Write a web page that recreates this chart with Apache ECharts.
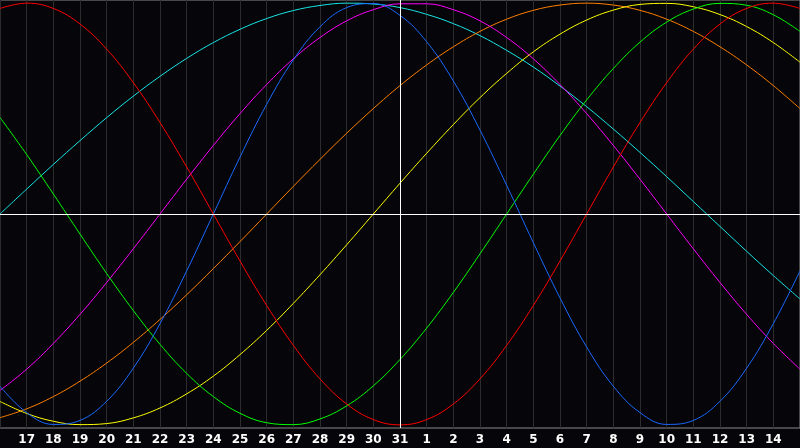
<!DOCTYPE html>
<html>
<head>
<meta charset="utf-8">
<script src="https://cdn.jsdelivr.net/npm/echarts@6/dist/echarts.min.js"></script>
<style>
  html, body { margin: 0; padding: 0; background: #060509; }
  #chart { width: 800px; height: 448px; }
</style>
</head>
<body>
<div id="chart"></div>
<script>
// day labels along the bottom (index 0 = 16th, 15 = 31st = today)
const dayLabels = ['16', '17', '18', '19', '20', '21', '22', '23', '24', '25', '26', '27', '28', '29', '30', '31',
    '1', '2', '3', '4', '5', '6', '7', '8', '9', '10', '11', '12', '13', '14', '15'];

// one value per day (-1 .. 1)
const red = [0.975, 1, 0.975, 0.901, 0.782, 0.623, 0.434, 0.223, 0, -0.223, -0.434, -0.623, -0.782, -0.901, -0.975, -1,
    -0.975, -0.901, -0.782, -0.623, -0.434, -0.223, 0, 0.223, 0.434, 0.623, 0.782, 0.901, 0.975, 1, 0.975];
const green = [0.458, 0.282, 0.095, -0.095, -0.282, -0.458, -0.618, -0.756, -0.866, -0.945, -0.990, -0.999, -0.972, -0.910, -0.815, -0.690,
    -0.541, -0.372, -0.189, 0, 0.189, 0.372, 0.541, 0.690, 0.815, 0.910, 0.972, 0.999, 0.990, 0.945, 0.866];
const blue = [-0.817, -0.942, -0.998, -0.979, -0.888, -0.731, -0.520, -0.270, 0, 0.270, 0.520, 0.731, 0.888, 0.979, 0.998, 0.942,
    0.817, 0.631, 0.398, 0.136, -0.136, -0.398, -0.631, -0.817, -0.942, -0.998, -0.979, -0.888, -0.731, -0.520, -0.270];
const magenta = [-0.837, -0.736, -0.614, -0.476, -0.325, -0.165, 0, 0.165, 0.325, 0.476, 0.614, 0.736, 0.837, 0.916, 0.969, 0.997,
    0.997, 0.969, 0.916, 0.837, 0.736, 0.614, 0.476, 0.325, 0.165, 0, -0.165, -0.325, -0.476, -0.614, -0.736];
const cyan = [0, 0.118, 0.235, 0.348, 0.457, 0.559, 0.653, 0.738, 0.813, 0.876, 0.927, 0.965, 0.989, 1.000, 0.996, 0.979,
    0.947, 0.903, 0.846, 0.776, 0.697, 0.607, 0.509, 0.403, 0.292, 0.177, 0.059, -0.059, -0.177, -0.292, -0.403];
const orange = [-0.966, -0.924, -0.866, -0.793, -0.707, -0.609, -0.5, -0.383, -0.259, -0.131, 0, 0.131, 0.259, 0.383, 0.5, 0.609,
    0.707, 0.793, 0.866, 0.924, 0.966, 0.991, 1, 0.991, 0.966, 0.924, 0.866, 0.793, 0.707, 0.609, 0.5];
const yellow = [-0.889, -0.946, -0.983, -0.999, -0.994, -0.967, -0.920, -0.853, -0.769, -0.667, -0.552, -0.424, -0.288, -0.146, 0, 0.146,
    0.288, 0.424, 0.552, 0.667, 0.769, 0.853, 0.920, 0.967, 0.994, 0.999, 0.983, 0.946, 0.889, 0.813, 0.720];

const todayIndex = 15;

const curves = [
    { data: cyan, color: '#19e6e6' },
    { data: orange, color: '#ff8000' },
    { data: yellow, color: '#ffff00' },
    { data: magenta, color: '#ff00ff' },
    { data: green, color: '#00ff00' },
    { data: blue, color: '#1a6aff' },
    { data: red, color: '#ff0000' }
];

function toPoints(arr) {
    return arr.map(function (v, i) { return [i, v]; });
}

const series = curves.map(function (c) {
    return {
        type: 'line',
        data: toPoints(c.data),
        smooth: 0.4,
        showSymbol: false,
        symbol: 'none',
        lineStyle: { color: c.color, width: 1 },
        z: 3
    };
});

// white centre line and "today" line
series.push({
    type: 'line',
    data: [],
    silent: true,
    z: 2,
    markLine: {
        silent: true,
        symbol: 'none',
        label: { show: false },
        lineStyle: { color: '#ffffff', width: 1, type: 'solid' },
        data: [{ yAxis: 0 }, { xAxis: todayIndex }]
    }
});

const chart = echarts.init(document.getElementById('chart'));
chart.setOption({
    animation: false,
    backgroundColor: '#060509',
    grid: {
        left: 0, right: 0, top: 0, bottom: 20,
        show: true,
        backgroundColor: '#060509',
        borderColor: '#8a8a8a',
        borderWidth: 1
    },
    xAxis: {
        type: 'value',
        min: 0,
        max: 30,
        interval: 1,
        axisLine: { show: true, lineStyle: { color: '#b4b4b4', width: 1 } },
        axisTick: { show: false },
        splitLine: { show: true, lineStyle: { color: '#2c2c2c', width: 1 } },
        axisLabel: {
            showMinLabel: false,
            showMaxLabel: false,
            color: '#ffffff',
            fontFamily: 'DejaVu Sans',
            fontWeight: 'bold',
            fontSize: 12,
            margin: 6,
            formatter: function (v) { return dayLabels[v]; }
        }
    },
    yAxis: {
        type: 'value',
        min: -1.015,
        max: 1.015,
        axisLine: { show: false },
        axisTick: { show: false },
        axisLabel: { show: false },
        splitLine: { show: false }
    },
    series: series
});
</script>
</body>
</html>
